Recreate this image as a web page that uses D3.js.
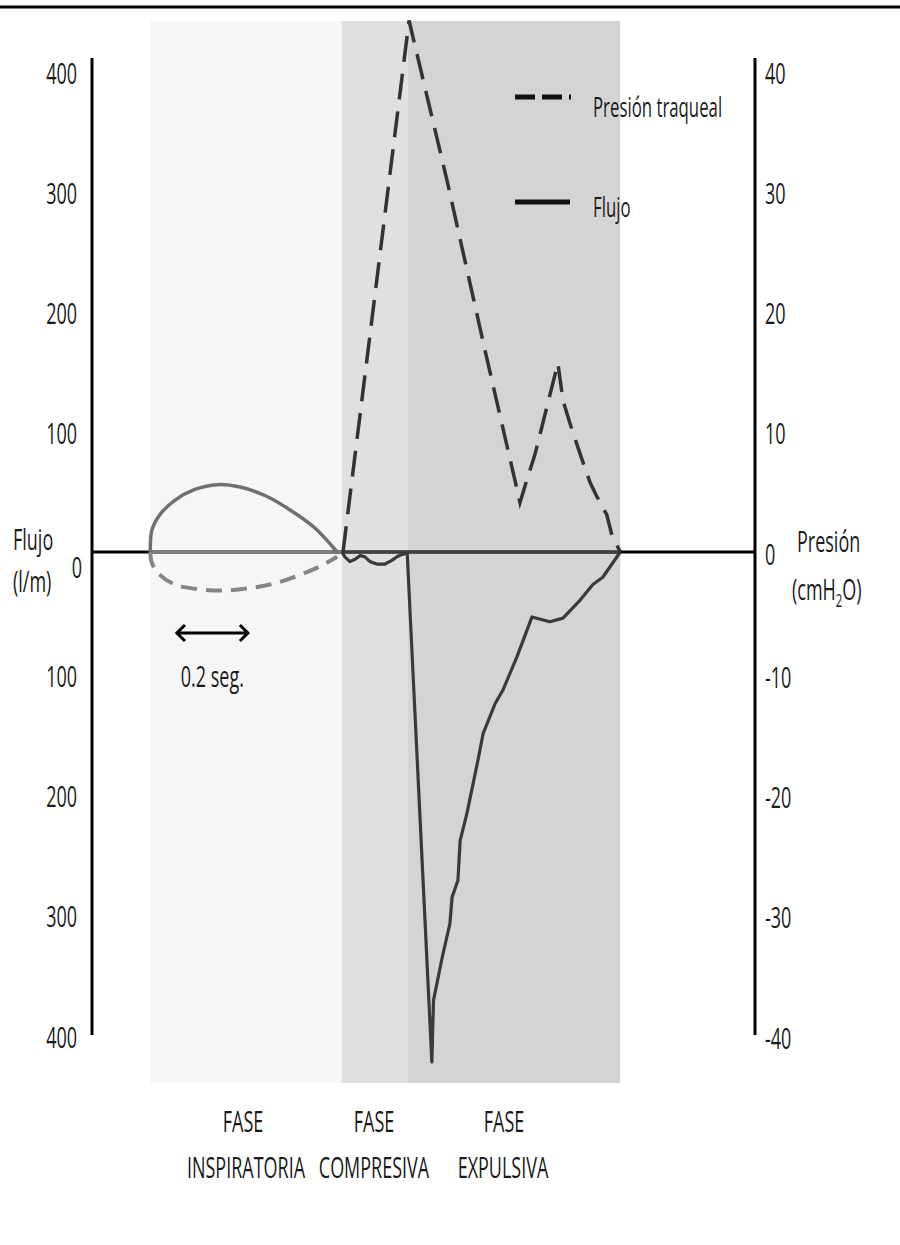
<!DOCTYPE html>
<html>
<head>
<meta charset="UTF-8">
<title>Flujo y presión traqueal</title>
<script src="https://cdn.jsdelivr.net/npm/d3@7"></script>
<style>
body { margin: 0; background: #fff; }
svg { font-family: "Open Sans", sans-serif; }
</style>
</head>
<body>
<svg width="900" height="1245"></svg>
<script>
// phases of the cough (seconds)
var phaseTop = ["FASE", "FASE", "FASE"];
var phaseBottom = ["INSPIRATORIA", "COMPRESIVA", "EXPULSIVA"];
var phaseStart = [0, 0.525, 0.705];
var phaseEnd = [0.525, 0.705, 1.288];

var flowTicks = [-400, -300, -200, -100, 0, 100, 200, 300, 400];
var presTicks = [-40, -30, -20, -10, 0, 10, 20, 30, 40];

// inspiratory phase: flow (l/m) and tracheal pressure (cmH2O)
var inspFlowTime = [0, 0.004, 0.026, 0.067, 0.122, 0.183, 0.246, 0.314, 0.383, 0.451, 0.512];
var inspFlow     = [0, 18, 31, 43, 52, 56, 54, 47, 35, 20, 0];
var inspPresTime = [0, 0.004, 0.026, 0.067, 0.136, 0.205, 0.273, 0.342, 0.41, 0.465, 0.512];
var inspPres     = [0, -0.9, -1.9, -2.7, -3.1, -3.2, -3.0, -2.6, -1.9, -1.2, -0.4];

// compressive + expulsive phases
var coughFlowTime = [0.525, 0.533, 0.547, 0.561, 0.575, 0.588, 0.602, 0.621, 0.643, 0.662, 0.676, 0.69, 0.704,
                     0.7715, 0.776, 0.8, 0.821, 0.827, 0.843, 0.849, 0.868, 0.885, 0.898, 0.912, 0.945, 0.966,
                     1.005, 1.046, 1.095, 1.131, 1.178, 1.213, 1.24, 1.288];
var coughFlow     = [0, -4, -8, -6, -3, -4, -8, -10, -10, -7, -4, -2, -1,
                     -424, -373, -337, -309, -287, -273, -240, -217, -192, -173, -151, -126, -115,
                     -87, -54, -58, -55, -40, -27, -21, 0];
var coughPresTime = [0.528, 0.709, 0.813, 0.917, 1.002, 1.013, 1.03, 1.054, 1.117, 1.131, 1.15, 1.183, 1.205, 1.224, 1.251, 1.265, 1.288];
var coughPres     = [0, 44.2, 30.9, 16.8, 5.6, 4.1, 5.8, 8.1, 15.7, 12.6, 10.7, 7.7, 5.8, 4.6, 3.1, 1.4, 0];

var sx = 0.6; // narrow lettering of the original

var svg = d3.select("svg");

var x = d3.scaleLinear().domain([-0.16, 1.66]).range([92, 756]);
var yFlow = d3.scaleLinear().domain([-400, 400]).range([1033, 71]);
var yPres = d3.scaleLinear().domain([-40, 40]).range([1033, 71]);

function label(px, py, str, size, anchor) {
  return svg.append("text")
    .attr("transform", "translate(" + px + "," + py + ") scale(" + sx + ",1)")
    .attr("text-anchor", anchor || "start")
    .style("font-size", size + "px")
    .attr("fill", "#1a1a1a")
    .text(str);
}

// top rule
svg.append("line").attr("x1", 0).attr("x2", 900).attr("y1", 7).attr("y2", 7)
  .attr("stroke", "#000").attr("stroke-width", 3);

// phase backgrounds
var shades = ["#f6f6f6", "#e0e0e0", "#d4d4d4"];
svg.selectAll(".phase")
  .data(phaseStart)
  .enter().append("rect")
    .attr("class", "phase")
    .attr("x", function(d) { return x(d); })
    .attr("width", function(d, i) { return x(phaseEnd[i]) - x(d); })
    .attr("y", 21)
    .attr("height", 1062)
    .attr("fill", function(d, i) { return shades[i]; });

// zero line, lighter where it crosses the phases
svg.append("line").attr("x1", 92).attr("x2", 755).attr("y1", yFlow(0)).attr("y2", yFlow(0))
  .attr("stroke", "#000").attr("stroke-width", 3);
svg.append("line").attr("x1", x(phaseStart[0])).attr("x2", x(phaseEnd[0]))
  .attr("y1", yFlow(0)).attr("y2", yFlow(0))
  .attr("stroke", "#7c7c7c").attr("stroke-width", 3);
svg.append("line").attr("x1", x(phaseStart[1])).attr("x2", x(phaseEnd[2]))
  .attr("y1", yFlow(0)).attr("y2", yFlow(0))
  .attr("stroke", "#3e3e3e").attr("stroke-width", 3);

// axes
svg.append("line").attr("x1", 92).attr("x2", 92).attr("y1", 58).attr("y2", 1035)
  .attr("stroke", "#000").attr("stroke-width", 3);
svg.append("line").attr("x1", 755).attr("x2", 755).attr("y1", 58).attr("y2", 1035)
  .attr("stroke", "#000").attr("stroke-width", 3);

var leftAxis = svg.append("g")
    .attr("transform", "translate(92,0)")
    .call(d3.axisLeft(yFlow).tickValues(flowTicks).tickSize(0).tickPadding(15)
      .tickFormat(function(d) { return String(Math.abs(d)); }));
leftAxis.select(".domain").remove();
leftAxis.selectAll("text")
  .attr("transform", "scale(" + sx + ",1)")
  .attr("x", function(d) { return (d === 0 ? -10 : -15) / sx; })
  .attr("dy", null)
  .attr("y", function(d) { return d === 0 ? 25 : (d < 0 ? 14 : 12); })
  .attr("fill", "#1a1a1a")
  .style("font-size", "30px")
  .style("font-family", "'Open Sans', sans-serif");

var rightAxis = svg.append("g")
    .attr("transform", "translate(755,0)")
    .call(d3.axisRight(yPres).tickValues(presTicks).tickSize(0).tickPadding(10)
      .tickFormat(function(d) { return String(d); }));
rightAxis.select(".domain").remove();
rightAxis.selectAll("text")
  .attr("transform", "scale(" + sx + ",1)")
  .attr("x", 10 / sx)
  .attr("dy", null)
  .attr("y", function(d) { return d < 0 ? 15 : 12; })
  .attr("fill", "#1a1a1a")
  .style("font-size", "30px")
  .style("font-family", "'Open Sans', sans-serif");

// axis titles
label(13, 550, "Flujo", 30);
label(13, 592, "(l/m)", 30);
label(797, 552, "Presión", 30);
var unit = label(792, 600, "(cmH", 30);
unit.append("tspan").attr("dy", 7).style("font-size", "19px").text("2");
unit.append("tspan").attr("dy", -7).text("O)");

// curves
var line = d3.line()
  .x(function(d) { return x(d[0]); })
  .y(function(d) { return d[1]; });

var smooth = d3.line()
  .x(function(d) { return x(d[0]); })
  .y(function(d) { return d[1]; })
  .curve(d3.curveCatmullRom);

svg.append("path")
  .attr("d", smooth(d3.zip(inspFlowTime, inspFlow.map(yFlow))))
  .attr("fill", "none").attr("stroke", "#6f6f6f").attr("stroke-width", 3.5);

svg.append("path")
  .attr("d", smooth(d3.zip(inspPresTime, inspPres.map(yPres))))
  .attr("fill", "none").attr("stroke", "#858585").attr("stroke-width", 4)
  .attr("stroke-dasharray", "16,9");

svg.append("path")
  .attr("d", line(d3.zip(coughFlowTime, coughFlow.map(yFlow))))
  .attr("fill", "none").attr("stroke", "#3a3a3a").attr("stroke-width", 3.2)
  .attr("stroke-linejoin", "round");

svg.append("path")
  .attr("d", line(d3.zip(coughPresTime, coughPres.map(yPres))))
  .attr("fill", "none").attr("stroke", "#333").attr("stroke-width", 3.5)
  .attr("stroke-dasharray", "26,12");

// legend
svg.append("line").attr("x1", 515).attr("x2", 571).attr("y1", 97).attr("y2", 97)
  .attr("stroke", "#111").attr("stroke-width", 5).attr("stroke-dasharray", "20,7");
svg.append("line").attr("x1", 515).attr("x2", 570).attr("y1", 202).attr("y2", 202)
  .attr("stroke", "#111").attr("stroke-width", 5);
label(593, 117, "Presión traqueal", 28);
label(593, 217, "Flujo", 28);

// time scale marker: 0.2 s
var a0 = x(0.07), a1 = x(0.27), ay = 633;
svg.append("path")
  .attr("d", "M" + a0 + "," + ay + "H" + a1 +
             "M" + (a0 + 9) + "," + (ay - 8) + "L" + (a0 + 1) + "," + ay + "L" + (a0 + 9) + "," + (ay + 8) +
             "M" + (a1 - 9) + "," + (ay - 8) + "L" + (a1 - 1) + "," + ay + "L" + (a1 - 9) + "," + (ay + 8))
  .attr("fill", "none").attr("stroke", "#000").attr("stroke-width", 3);
label((a0 + a1) / 2, 687, "0.2 seg.", 30, "middle");

// phase names
var topX = [243, 374, 504];
var botX = [246, 374, 503];
phaseTop.forEach(function(s, i) { label(topX[i], 1132, s, 30, "middle"); });
phaseBottom.forEach(function(s, i) { label(botX[i], 1178, s, 30, "middle"); });
</script>
</body>
</html>
